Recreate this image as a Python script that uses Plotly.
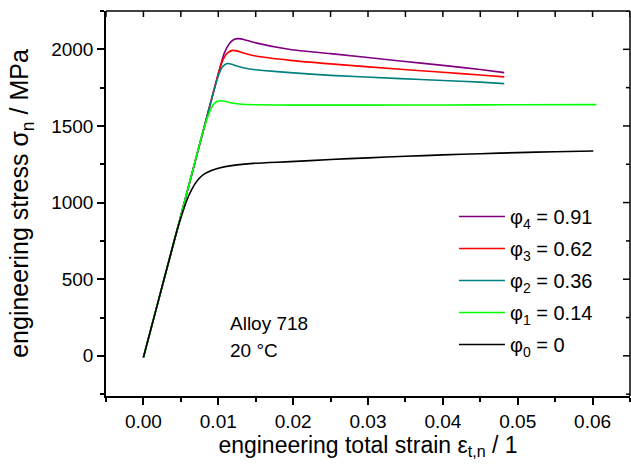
import plotly.graph_objects as go

# ---------------- data ----------------
strain_phi0 = [0.0, 0.001, 0.002, 0.003, 0.004, 0.0045, 0.005, 0.0055, 0.006, 0.0065,
               0.007, 0.0075, 0.008, 0.009, 0.010, 0.012, 0.0147, 0.0196, 0.025, 0.030,
               0.035, 0.040, 0.045, 0.050, 0.055, 0.0601]
stress_phi0 = [-10, 175, 360, 545, 730, 820, 900, 975, 1040, 1090,
               1130, 1160, 1183, 1208, 1224, 1243, 1256, 1267, 1281, 1292,
               1302, 1311, 1319, 1326, 1332, 1337]

strain_phi1 = [0.0, 0.002, 0.004, 0.006, 0.008, 0.0086, 0.0091, 0.0095, 0.0099, 0.0104,
               0.0110, 0.0118, 0.0128, 0.015, 0.020, 0.030, 0.040, 0.050, 0.0605]
stress_phi1 = [-10, 360, 730, 1100, 1470, 1560, 1620, 1648, 1661, 1664,
               1660, 1650, 1643, 1638, 1636, 1636, 1637, 1638, 1639]

strain_phi2 = [0.0, 0.002, 0.004, 0.006, 0.008, 0.0095, 0.0101, 0.0106, 0.0112, 0.0118,
               0.0125, 0.014, 0.016, 0.0196, 0.025, 0.0343, 0.040, 0.045, 0.0482]
stress_phi2 = [-10, 360, 730, 1100, 1470, 1745, 1840, 1888, 1907, 1903,
               1891, 1873, 1862, 1848, 1830, 1809, 1797, 1786, 1776]

strain_phi3 = [0.0, 0.002, 0.004, 0.006, 0.008, 0.010, 0.0106, 0.0112, 0.0119, 0.0125,
               0.0135, 0.015, 0.0196, 0.025, 0.0343, 0.040, 0.045, 0.0482]
stress_phi3 = [-10, 360, 730, 1100, 1470, 1840, 1930, 1975, 1993, 1990,
               1974, 1956, 1928, 1905, 1870, 1850, 1832, 1820]

strain_phi4 = [0.0, 0.002, 0.004, 0.006, 0.008, 0.010, 0.0108, 0.0115, 0.0121, 0.0127,
               0.0135, 0.015, 0.0196, 0.025, 0.0343, 0.040, 0.045, 0.0482]
stress_phi4 = [-10, 360, 730, 1100, 1470, 1840, 1975, 2038, 2064, 2070,
               2063, 2042, 1999, 1972, 1924, 1895, 1868, 1848]

series = [
    ("φ<sub>4</sub> = 0.91", strain_phi4, stress_phi4, "#800080"),
    ("φ<sub>3</sub> = 0.62", strain_phi3, stress_phi3, "#FF0000"),
    ("φ<sub>2</sub> = 0.36", strain_phi2, stress_phi2, "#008080"),
    ("φ<sub>1</sub> = 0.14", strain_phi1, stress_phi1, "#00FF00"),
    ("φ<sub>0</sub> = 0", strain_phi0, stress_phi0, "#000000"),
]

x_range = [-0.005, 0.065]
y_range = [-262, 2250]
x_tickvals = [0.00, 0.01, 0.02, 0.03, 0.04, 0.05, 0.06]
x_ticktext = ["0.00", "0.01", "0.02", "0.03", "0.04", "0.05", "0.06"]
y_tickvals = [0, 500, 1000, 1500, 2000]
y_ticktext = ["0", "500", "1000", "1500", "2000"]

FONT = "Liberation Sans, Arial, sans-serif"
W, H = 631, 470
M = dict(l=106, r=1, t=11, b=74)
plot_w = W - M["l"] - M["r"]
plot_h = H - M["t"] - M["b"]

fig = go.Figure()
for i, (name, xs, ys, col) in enumerate(series):
    fig.add_trace(go.Scatter(
        x=xs, y=ys, mode="lines", name=name, legendgroup=f"g{i}",
        line=dict(color=col, width=1.6, shape="spline", smoothing=0.6),
    ))

fig.update_layout(
    width=W, height=H,
    margin=M,
    paper_bgcolor="white", plot_bgcolor="white",
    font=dict(family=FONT, size=19, color="black"),
    showlegend=True,
    legend=dict(x=0.664, y=0.30, xanchor="left", yanchor="middle",
                bgcolor="rgba(0,0,0,0)", font=dict(size=20),
                tracegroupgap=3, itemwidth=46),
    xaxis=dict(
        range=x_range, tickvals=x_tickvals, ticktext=x_ticktext,
        showline=True, linecolor="black", linewidth=1.5,
        showgrid=False, zeroline=False,
        ticks="outside", ticklen=7, tickcolor="black", tickwidth=1.5,
        minor=dict(ticks="outside", ticklen=4, dtick=0.005, tick0=0, tickcolor="black", tickwidth=1.5),
        title=dict(text="engineering total strain ε<sub>t,n</sub> / 1", font=dict(size=23), standoff=6)),
    yaxis=dict(
        range=y_range, tickvals=y_tickvals, ticktext=y_ticktext,
        showline=True, linecolor="black", linewidth=1.5,
        showgrid=False, zeroline=False,
        ticks="outside", ticklen=7, tickcolor="black", tickwidth=1.5,
        minor=dict(ticks="outside", ticklen=4, dtick=250, tick0=0, tickcolor="black", tickwidth=1.5),
        title=dict(text="engineering stress σ<sub>n</sub> / MPa", font=dict(size=25), standoff=15)),
)

# frame (top and right borders)
frame_line = dict(color="black", width=1.5)
fig.add_shape(type="line", xref="paper", yref="paper", x0=0, x1=1, y0=1, y1=1,
              line=frame_line, layer="above")
fig.add_shape(type="line", xref="paper", yref="paper", x0=1, x1=1, y0=0, y1=1,
              line=frame_line, layer="above")

# inward ticks on the top and right borders, at the axis tick positions
top_ticks = [v - 0.005 for v in x_tickvals] + x_tickvals + [x_tickvals[-1] + 0.005]
for v in sorted(set(round(t, 4) for t in top_ticks)):
    fig.add_shape(type="line", xref="x", yref="paper", x0=v, x1=v, y0=1, y1=1 - 6 / plot_h,
                  line=frame_line, layer="above")
for v in y_tickvals:
    fig.add_shape(type="line", xref="paper", yref="y", x0=1, x1=1 - 7 / plot_w, y0=v, y1=v,
                  line=frame_line, layer="above")
    fig.add_shape(type="line", xref="paper", yref="y", x0=1, x1=1 - 4 / plot_w, y0=v + 250, y1=v + 250,
                  line=frame_line, layer="above")
fig.add_shape(type="line", xref="paper", yref="y", x0=1, x1=1 - 4 / plot_w,
              y0=y_tickvals[0] - 250, y1=y_tickvals[0] - 250, line=frame_line, layer="above")

fig.add_annotation(x=0.0113, y=213, xref="x", yref="y", text="Alloy 718", showarrow=False,
                   xanchor="left", yanchor="middle", font=dict(size=19))
fig.add_annotation(x=0.0113, y=37, xref="x", yref="y", text="20 °C", showarrow=False,
                   xanchor="left", yanchor="middle", font=dict(size=19))

fig.write_html("out.html")
